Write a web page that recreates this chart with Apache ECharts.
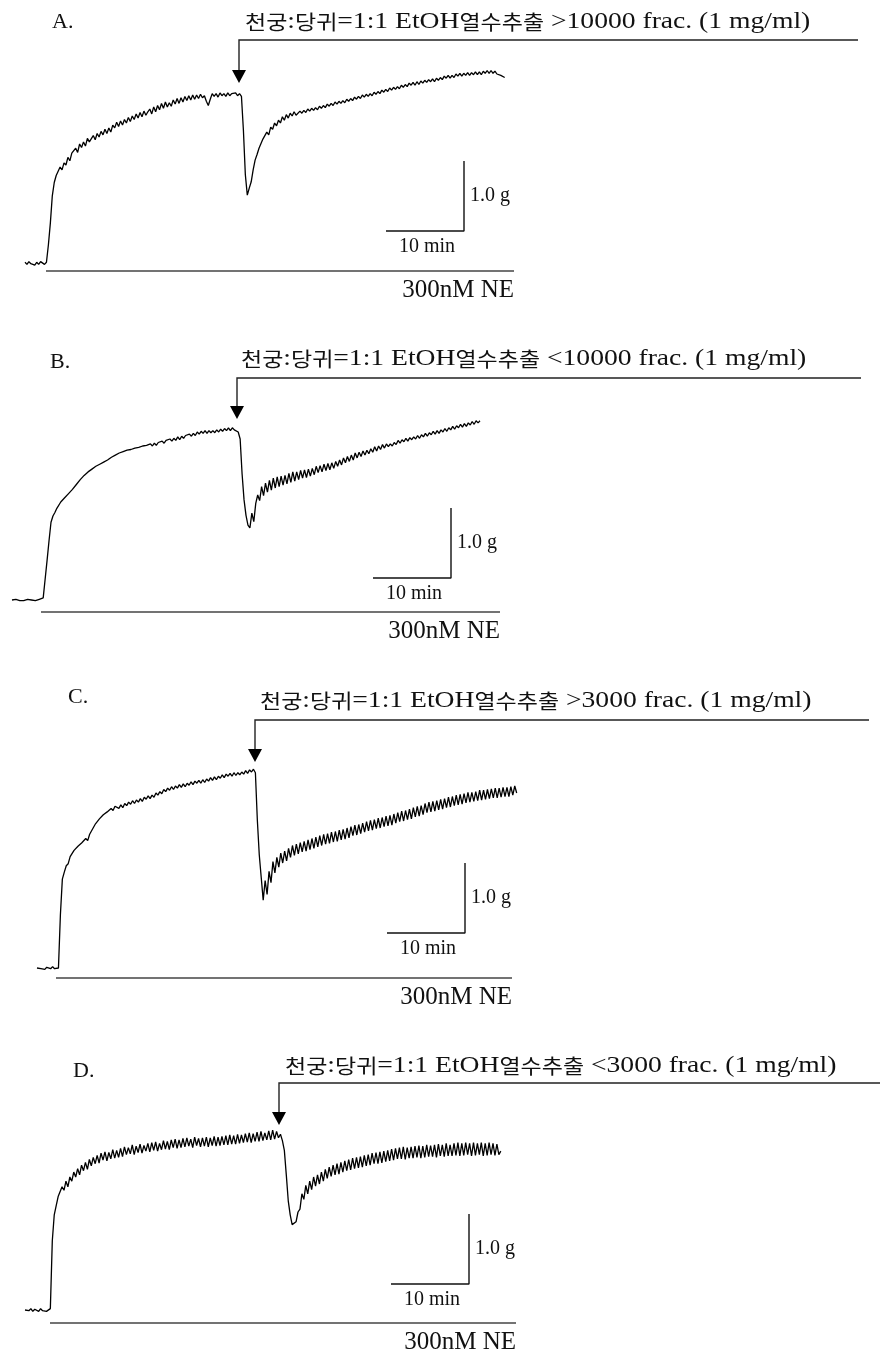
<!DOCTYPE html>
<html>
<head>
<meta charset="utf-8">
<title>천궁:당귀 EtOH 열수추출 분획 - 장력 기록</title>
<script src="https://cdn.jsdelivr.net/npm/echarts@6/dist/echarts.min.js"></script>
<style>
  html, body { margin: 0; padding: 0; background: #ffffff; }
  #main { width: 880px; height: 1353px; }
</style>
</head>
<body>
<div id="main"></div>
<script>
// Isometric tension recordings, sampled every 0.25 min (g above the resting baseline)
const SAMPLE_STEP_MIN = 0.25;
const SCALE_BAR_MIN = 10;
const SCALE_BAR_G = 1.0;

const panelLetters = ['A.', 'B.', 'C.', 'D.'];
const fractionLabels = ['>10000', '<10000', '>3000', '<3000'];
const agonistLabel = '300nM NE';

const tensionA = [
  0.01,-0.02,0.02,-0.01,0.00,-0.03,0.01,-0.02,0.02,0.00,
  -0.02,0.01,0.26,0.57,0.96,1.15,1.25,1.24,1.37,1.33,
  1.43,1.40,1.51,1.46,1.57,1.55,1.64,1.58,1.70,1.65,
  1.73,1.67,1.78,1.73,1.75,1.82,1.76,1.85,1.80,1.88,
  1.83,1.91,1.85,1.93,1.87,1.97,1.93,2.01,1.95,2.03,
  1.97,2.05,2.00,2.08,2.02,2.10,2.05,2.13,2.07,2.15,
  2.09,2.17,2.11,2.16,2.20,2.13,2.23,2.16,2.25,2.19,
  2.28,2.21,2.30,2.23,2.29,2.24,2.33,2.27,2.35,2.28,
  2.36,2.30,2.38,2.32,2.39,2.33,2.40,2.34,2.40,2.35,
  2.41,2.36,2.39,2.31,2.25,2.34,2.42,2.38,2.42,2.37,
  2.43,2.39,2.42,2.38,2.43,2.39,2.42,2.40,2.43,2.39,
  2.42,2.38,1.90,1.26,0.97,1.07,1.16,1.33,1.47,1.55,
  1.64,1.63,1.77,1.75,1.87,1.83,1.94,1.91,2.00,1.96,
  2.04,2.00,2.09,2.04,2.12,2.07,2.14,2.10,2.16,2.11,
  2.12,2.17,2.14,2.18,2.15,2.20,2.17,2.21,2.18,2.22,
  2.19,2.24,2.21,2.25,2.22,2.27,2.24,2.28,2.25,2.30,
  2.27,2.31,2.28,2.32,2.29,2.34,2.31,2.35,2.32,2.37,
  2.34,2.38,2.35,2.40,2.37,2.41,2.38,2.42,2.39,2.44,
  2.41,2.45,2.42,2.47,2.44,2.48,2.45,2.50,2.47,2.51,
  2.48,2.52,2.49,2.54,2.51,2.55,2.52,2.57,2.54,2.58,
  2.54,2.59,2.55,2.60,2.57,2.61,2.58,2.62,2.59,2.63,
  2.59,2.64,2.61,2.65,2.62,2.67,2.64,2.68,2.64,2.68,
  2.65,2.70,2.67,2.71,2.67,2.71,2.68,2.72,2.68,2.72,
  2.69,2.73,2.69,2.73,2.69,2.74,2.71,2.75,2.71,2.75,
  2.71,2.74,2.70,2.72,2.68,2.69,2.65
];

const tensionB = [
  0.00,-0.01,0.01,0.00,-0.01,0.01,-0.01,0.00,0.01,-0.01,
  0.00,0.01,-0.01,0.00,0.01,-0.01,0.03,0.30,0.57,0.85,
  1.11,1.20,1.25,1.31,1.33,1.40,1.42,1.46,1.46,1.52,
  1.53,1.58,1.59,1.65,1.66,1.72,1.73,1.78,1.77,1.83,
  1.82,1.87,1.85,1.91,1.90,1.94,1.93,1.97,1.96,2.00,
  1.99,2.04,2.02,2.07,2.06,2.10,2.08,2.12,2.10,2.14,
  2.12,2.15,2.13,2.17,2.15,2.18,2.16,2.20,2.18,2.21,
  2.19,2.23,2.20,2.24,2.21,2.25,2.23,2.27,2.24,2.28,
  2.26,2.30,2.27,2.31,2.28,2.33,2.29,2.34,2.31,2.35,
  2.33,2.37,2.34,2.38,2.35,2.40,2.37,2.41,2.38,2.42,
  2.38,2.42,2.39,2.42,2.39,2.43,2.40,2.44,2.41,2.45,
  2.42,2.46,2.42,2.46,2.43,2.45,2.40,2.30,1.80,1.43,
  1.21,1.07,1.03,1.24,1.12,1.38,1.50,1.42,1.62,1.49,
  1.67,1.54,1.71,1.57,1.74,1.60,1.76,1.62,1.77,1.64,
  1.78,1.66,1.81,1.68,1.83,1.70,1.83,1.72,1.85,1.74,
  1.86,1.75,1.87,1.77,1.88,1.79,1.91,1.82,1.92,1.83,
  1.94,1.85,1.95,1.86,1.96,1.88,1.98,1.91,2.00,1.93,
  2.03,1.96,2.05,1.98,2.07,2.00,2.10,2.03,2.11,2.05,
  2.13,2.07,2.14,2.09,2.16,2.11,2.19,2.13,2.20,2.15,
  2.22,2.17,2.23,2.19,2.23,2.20,2.25,2.22,2.28,2.24,
  2.29,2.26,2.31,2.27,2.32,2.29,2.33,2.30,2.35,2.31,
  2.36,2.33,2.38,2.34,2.39,2.36,2.41,2.37,2.42,2.38,
  2.43,2.40,2.45,2.41,2.46,2.43,2.48,2.44,2.49,2.46,
  2.51,2.47,2.52,2.48,2.53,2.50,2.55,2.51,2.56,2.53,
  2.56
];

const tensionC = [
  0.00,0.02,-0.01,0.01,-0.02,0.01,0.00,-0.01,0.02,-0.01,
  0.01,0.00,0.76,1.27,1.37,1.46,1.49,1.59,1.61,1.68,
  1.67,1.74,1.72,1.79,1.78,1.85,1.82,1.91,1.96,1.97,
  2.06,2.05,2.13,2.12,2.19,2.17,2.23,2.21,2.28,2.25,
  2.31,2.31,2.28,2.33,2.29,2.35,2.32,2.37,2.34,2.39,
  2.35,2.40,2.37,2.42,2.38,2.44,2.41,2.46,2.42,2.47,
  2.44,2.50,2.47,2.52,2.49,2.55,2.52,2.57,2.54,2.59,
  2.55,2.60,2.57,2.62,2.58,2.63,2.59,2.64,2.61,2.66,
  2.62,2.67,2.64,2.68,2.64,2.69,2.65,2.70,2.67,2.72,
  2.68,2.73,2.69,2.74,2.71,2.76,2.72,2.77,2.74,2.78,
  2.74,2.79,2.75,2.79,2.76,2.80,2.77,2.82,2.78,2.83,
  2.80,2.84,2.79,2.11,1.61,1.29,0.97,1.25,1.05,1.38,
  1.22,1.52,1.36,1.58,1.44,1.64,1.50,1.67,1.53,1.71,
  1.58,1.75,1.61,1.77,1.63,1.79,1.66,1.81,1.67,1.83,
  1.69,1.85,1.71,1.87,1.73,1.89,1.75,1.91,1.77,1.92,
  1.78,1.94,1.80,1.95,1.81,1.97,1.83,1.98,1.84,2.00,
  1.86,2.02,1.89,2.04,1.90,2.05,1.92,2.07,1.94,2.09,
  1.96,2.11,1.97,2.12,1.99,2.14,2.00,2.15,2.02,2.17,
  2.03,2.18,2.04,2.20,2.07,2.22,2.09,2.24,2.10,2.25,
  2.12,2.27,2.13,2.29,2.16,2.31,2.17,2.32,2.19,2.35,
  2.22,2.37,2.23,2.38,2.24,2.39,2.26,2.41,2.27,2.42,
  2.29,2.44,2.30,2.45,2.32,2.47,2.33,2.48,2.34,2.49,
  2.36,2.51,2.37,2.51,2.38,2.52,2.39,2.54,2.40,2.54,
  2.41,2.55,2.42,2.56,2.43,2.57,2.43,2.57,2.44,2.58,
  2.45,2.58,2.45,2.59,2.47,2.60,2.50
];

const tensionD = [
  0.00,0.02,-0.01,0.02,-0.02,0.01,0.00,-0.02,0.02,-0.01,
  0.01,-0.02,0.00,0.02,0.99,1.36,1.49,1.62,1.63,1.76,
  1.71,1.84,1.76,1.90,1.84,1.97,1.90,2.02,1.93,2.07,
  1.99,2.11,2.01,2.15,2.06,2.18,2.09,2.21,2.10,2.24,
  2.14,2.26,2.13,2.25,2.16,2.29,2.17,2.28,2.18,2.31,
  2.19,2.33,2.22,2.32,2.23,2.36,2.22,2.34,2.25,2.37,
  2.24,2.35,2.27,2.38,2.26,2.39,2.28,2.40,2.27,2.38,
  2.29,2.42,2.30,2.41,2.29,2.43,2.32,2.44,2.31,2.43,
  2.32,2.45,2.33,2.46,2.34,2.44,2.32,2.47,2.35,2.45,
  2.33,2.46,2.34,2.47,2.33,2.46,2.35,2.48,2.34,2.47,
  2.35,2.48,2.36,2.49,2.36,2.50,2.37,2.49,2.37,2.51,
  2.38,2.50,2.39,2.52,2.40,2.53,2.39,2.52,2.41,2.54,
  2.41,2.55,2.42,2.53,2.43,2.56,2.43,2.57,2.44,2.55,
  2.46,2.51,2.42,2.28,1.93,1.56,1.36,1.22,1.20,1.26,
  1.40,1.44,1.66,1.58,1.78,1.66,1.84,1.72,1.90,1.77,
  1.93,1.80,1.97,1.84,2.01,1.88,2.04,1.91,2.07,1.93,
  2.09,1.94,2.11,1.97,2.13,1.99,2.15,2.00,2.17,2.02,
  2.18,2.03,2.19,2.04,2.21,2.06,2.22,2.07,2.24,2.09,
  2.25,2.09,2.26,2.10,2.27,2.12,2.28,2.13,2.30,2.14,
  2.31,2.16,2.32,2.16,2.33,2.15,2.32,2.17,2.33,2.17,
  2.34,2.18,2.35,2.17,2.34,2.18,2.36,2.19,2.35,2.19,
  2.36,2.18,2.37,2.20,2.36,2.19,2.38,2.20,2.36,2.20,
  2.38,2.21,2.39,2.20,2.38,2.21,2.39,2.22,2.38,2.20,
  2.39,2.21,2.38,2.22,2.39,2.20,2.38,2.21,2.39,2.22,
  2.38,2.21,2.37,2.22,2.27
];

const tensionTraces = [tensionA, tensionB, tensionC, tensionD];

// ---- page layout (pixels) ----
const W = 880, H = 1353;
const PX_PER_MIN = 7.8;   // 10 min bar = 78 px
const PX_PER_G = 70;      // 1.0 g bar = 70 px
const SERIF = '"Liberation Serif", "Times New Roman", serif';
const KOREAN = '"Noto Sans CJK KR", sans-serif';

const layout = [
  { t0: 25, base: 263,  label: [52, 22],   title: [245, 22],  arrowX: 239, bracketY: 40,   bracketEnd: 858, tipY: 83,   bar: [464, 231],  ne: [46, 514, 271] },
  { t0: 12, base: 600,  label: [50, 362],  title: [241, 359], arrowX: 237, bracketY: 378,  bracketEnd: 861, tipY: 419,  bar: [451, 578],  ne: [41, 500, 612] },
  { t0: 37, base: 968,  label: [68, 697],  title: [260, 701], arrowX: 255, bracketY: 720,  bracketEnd: 869, tipY: 762,  bar: [465, 933],  ne: [56, 512, 978] },
  { t0: 25, base: 1310, label: [73, 1071], title: [285, 1066],arrowX: 279, bracketY: 1083, bracketEnd: 880, tipY: 1125, bar: [469, 1284], ne: [50, 516, 1323] }
];

const chart = echarts.init(document.getElementById('main'), null, { renderer: 'canvas' });

const grids = [], xAxes = [], yAxes = [], series = [], elements = [];

layout.forEach((p, i) => {
  // one full-page coordinate system per recording: t = 0 at trace start, 0 g at its baseline
  grids.push({ left: 0, top: 0, width: W, height: H });
  xAxes.push({ type: 'value', gridIndex: i, show: false,
    min: -p.t0 / PX_PER_MIN, max: (W - p.t0) / PX_PER_MIN });
  yAxes.push({ type: 'value', gridIndex: i, show: false,
    min: -(H - p.base) / PX_PER_G, max: p.base / PX_PER_G });

  const trace = tensionTraces[i].map((g, k) => [k * SAMPLE_STEP_MIN, g]);
  series.push({
    type: 'line', xAxisIndex: i, yAxisIndex: i, data: trace,
    symbol: 'none', smooth: false,
    lineStyle: { color: '#000', width: 1.3 }
  });

  // calibration bar: 10 min horizontal, 1.0 g vertical
  const tc = (p.bar[0] - p.t0) / PX_PER_MIN;
  const gc = (p.base - p.bar[1]) / PX_PER_G;
  series.push({
    type: 'line', xAxisIndex: i, yAxisIndex: i, symbol: 'none',
    data: [[tc, gc + SCALE_BAR_G], [tc, gc], [tc - SCALE_BAR_MIN, gc]],
    lineStyle: { color: '#111', width: 1.4 }
  });
  const barTop = p.bar[1] - SCALE_BAR_G * PX_PER_G;
  const barLeft = p.bar[0] - SCALE_BAR_MIN * PX_PER_MIN;

  elements.push({ type: 'text', x: p.bar[0] + 6, y: (barTop + p.bar[1]) / 2,
    style: { text: SCALE_BAR_G.toFixed(1) + ' g', fontFamily: SERIF, fontSize: 20, fill: '#111',
      align: 'left', verticalAlign: 'middle' } });
  elements.push({ type: 'text', x: (barLeft + p.bar[0]) / 2 + 2, y: p.bar[1] + 16,
    style: { text: SCALE_BAR_MIN + ' min', fontFamily: SERIF, fontSize: 20, fill: '#111',
      align: 'center', verticalAlign: 'middle' } });

  // panel letter
  elements.push({ type: 'text', x: p.label[0], y: p.label[1],
    style: { text: panelLetters[i], fontFamily: SERIF, fontSize: 22, fill: '#111',
      align: 'left', verticalAlign: 'middle' } });

  // treatment label (set slightly wide, as in the figure)
  elements.push({ type: 'text', x: p.title[0], y: p.title[1], scaleX: 1.15,
    style: {
      text: '{ko|천궁}:{ko|당귀}=1:1 EtOH{ko|열수추출} ' + fractionLabels[i] + ' frac. (1 mg/ml)',
      fontFamily: SERIF, fontSize: 24, fill: '#111', align: 'left', verticalAlign: 'middle',
      rich: { ko: { fontFamily: KOREAN, fontSize: 20, fill: '#111' } }
    } });

  // treatment bracket and arrow
  elements.push({ type: 'polyline',
    shape: { points: [[p.bracketEnd, p.bracketY], [p.arrowX, p.bracketY], [p.arrowX, p.tipY - 10]] },
    style: { stroke: '#222', lineWidth: 1.4, fill: null } });
  elements.push({ type: 'polygon',
    shape: { points: [[p.arrowX - 7, p.tipY - 13], [p.arrowX + 7, p.tipY - 13], [p.arrowX, p.tipY]] },
    style: { fill: '#000' } });

  // agonist bar
  elements.push({ type: 'line',
    shape: { x1: p.ne[0], y1: p.ne[2], x2: p.ne[1], y2: p.ne[2] },
    style: { stroke: '#444', lineWidth: 1.6 } });
  elements.push({ type: 'text', x: p.ne[1], y: p.ne[2] + 19,
    style: { text: agonistLabel, fontFamily: SERIF, fontSize: 25, fill: '#111',
      align: 'right', verticalAlign: 'middle' } });
});

chart.setOption({
  animation: false,
  backgroundColor: '#ffffff',
  grid: grids,
  xAxis: xAxes,
  yAxis: yAxes,
  series: series,
  graphic: { elements: elements }
});
</script>
</body>
</html>
